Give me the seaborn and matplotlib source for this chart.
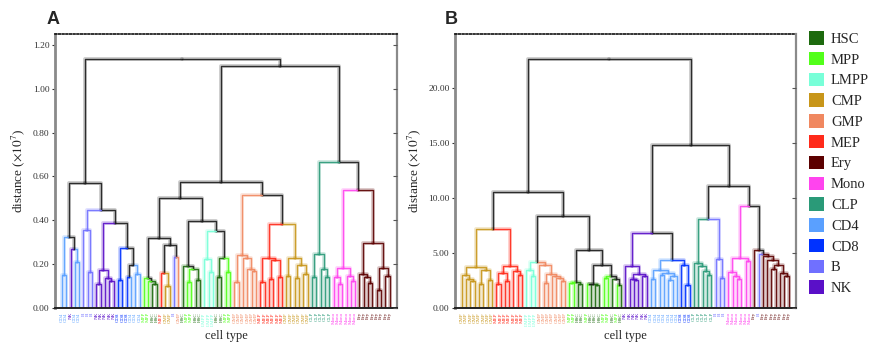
import numpy as np
import pandas as pd
import matplotlib
matplotlib.use("Agg")
import matplotlib.pyplot as plt
from matplotlib.patches import Patch
import seaborn as sns

# ---------------- data ----------------
cell_types = ["HSC", "MPP", "LMPP", "CMP", "GMP", "MEP", "Ery", "Mono",
              "CLP", "CD4", "CD8", "B", "NK"]
type_colors = ["#1d6a0e", "#52ff1a", "#78ffd8", "#c8961a", "#f08860", "#ff2a1a",
               "#5c0000", "#ff44ee", "#2a9a78", "#5aa0ff", "#0032ff", "#7070ff",
               "#5a10c8"]

# merge trees: (left, right, merge distance); leaves are cell types
# ---- panel A (distance x1e7) ----
A_L1 = (("CD4", "CD4", 0.15), ("NK", ("CD4", "CD4", 0.21), 0.27), 0.325)
A_B = ("B", ("B", "B", 0.165), 0.355)
A_NK = (("NK", "NK", 0.108), ("NK", ("NK", "NK", 0.125), 0.138), 0.175)
A_CD = (("CD8", "CD8", 0.128), (("CD8", "CD4", 0.14), ("CD4", "CD4", 0.155), 0.195), 0.275)
A_lymph = (A_L1, (A_B, (A_NK, A_CD, 0.39), 0.445), 0.57)
A_P1a = (("MPP", ("MPP", ("HSC", "HSC", 0.11), 0.125), 0.135),
         (("MEP", ("CMP", "CMP", 0.10), 0.158), ("B", "GMP", 0.233), 0.288), 0.318)
A_P1b = (("HSC", (("MPP", "MPP", 0.12), ("HSC", "HSC", 0.13), 0.177), 0.19),
         (("LMPP", ("LMPP", "LMPP", 0.163), 0.225),
          (("HSC", "HSC", 0.14), ("MPP", "MPP", 0.163), 0.228), 0.349), 0.397)
A_GMP = (("GMP", "GMP", 0.12), ("GMP", ("GMP", ("GMP", "GMP", 0.17), 0.178), 0.23), 0.242)
A_MEP = (("MEP", "MEP", 0.118), (("MEP", "MEP", 0.132), ("MEP", "MEP", 0.143), 0.22), 0.227)
A_CMP = (("CMP", "CMP", 0.148), (("CMP", "CMP", 0.138), ("CMP", "CMP", 0.154), 0.195), 0.227)
A_prog = ((A_P1a, A_P1b, 0.50), (A_GMP, (A_MEP, A_CMP, 0.383), 0.514), 0.574)
A_CLP = (("CLP", "CLP", 0.14), ("CLP", ("CLP", "CLP", 0.143), 0.178), 0.245)
A_Mono = (("Mono", ("Mono", "Mono", 0.11), 0.14), ("Mono", ("Mono", "Mono", 0.123), 0.146), 0.181)
A_Ery = (("Ery", ("Ery", ("Ery", "Ery", 0.116), 0.143), 0.155),
         (("Ery", "Ery", 0.082), ("Ery", "Ery", 0.146), 0.181), 0.295)
A_tree = (A_lymph, (A_prog, (A_CLP, (A_Mono, A_Ery, 0.539), 0.665), 1.106), 1.137)

# ---- panel B (distance x1e7) ----
B_CMP = (("CMP", ("CMP", ("CMP", "CMP", 2.45), 2.65), 3.0),
         (("CMP", "CMP", 2.18), ("CMP", "CMP", 2.57), 3.42), 3.73)
B_MEP = ((("MEP", "MEP", 2.2), ("MEP", "MEP", 2.45), 3.18), ("MEP", ("MEP", "MEP", 2.97), 3.33), 3.79)
B_GMP = ("GMP", (("GMP", "GMP", 2.27), ("GMP", ("GMP", ("GMP", "GMP", 2.42), 2.7), 2.88), 3.09), 3.94)
B_LG = (("LMPP", ("LMPP", "LMPP", 2.88), 3.45), B_GMP, 4.18)
B_green = ((("MPP", "MPP", 2.3), ("HSC", "HSC", 2.21), 2.36),
           ((("MPP", "HSC", 2.15), ("HSC", "HSC", 2.06), 2.21),
            (("MPP", "MPP", 2.75), ("HSC", ("MPP", "HSC", 2.12), 2.66), 2.94), 3.94), 5.3)
B_left = ((B_CMP, B_MEP, 7.18), (B_LG, B_green, 8.39), 10.5)
B_NK = ("NK", (("NK", ("NK", "NK", 2.55), 2.64), ("NK", "NK", 2.88), 3.09), 3.79)
B_CD = ((("CD4", "CD4", 2.64), (("CD4", "CD4", 3.0), (("CD4", "CD4", 2.57), "CD4", 2.9), 3.18), 3.42),
        ("CD8", ("CD8", "CD8", 2.06), 3.88), 4.39)
B_CLPB = (("CLP", ("CLP", ("CLP", ("CLP", "CLP", 2.97), 3.33), 3.79), 4.09),
          ("B", ("B", "B", 2.73), 4.45), 8.05)
B_Mono = (("Mono", ("Mono", ("Mono", "Mono", 2.6), 2.9), 3.24), ("Mono", "Mono", 4.24), 4.55)
B_Ery = ("Ery", ("B", ("Ery", ("Ery", (("Ery", "Ery", 3.54), ("Ery", ("Ery", "Ery", 2.9), 3.18), 3.94),
                               4.39), 4.75), 4.94), 5.3)
B_right = ((B_NK, B_CD, 6.82), (B_CLPB, (B_Mono, B_Ery, 9.24), 11.06), 14.85)
B_tree = (B_left, B_right, 22.64)

A_yticks = [0.0, 0.2, 0.4, 0.6, 0.8, 1.0, 1.2]
B_yticks = [0.0, 5.0, 10.0, 15.0, 20.0]


# ---------------- helpers ----------------
def dendro_frame(tree):
    leaves, rows = [], []

    def rec(node):
        if isinstance(node, str):
            leaves.append(node)
            return float(len(leaves) - 1), 0.0, node
        left, right, h = node
        lx, lh, lt = rec(left)
        rx, rh, rt = rec(right)
        cx = (lx + rx) / 2.0
        for (x, y, t) in ((lx, lh, lt), (rx, rh, rt)):
            k = len(rows) // 3
            rows.append((k, 0, x, y, t))
            rows.append((k, 1, x, h, t))
            rows.append((k, 2, cx, h, t))
        return cx, h, (lt if lt == rt else "mixed")

    rec(tree)
    df = pd.DataFrame(rows, columns=["seg", "step", "x", "y", "kind"])
    return leaves, df


sns.set_theme(style="ticks")
plt.rcParams["font.family"] = ["Liberation Serif", "DejaVu Serif"]
plt.rcParams["mathtext.fontset"] = "stix"

palette = dict(zip(cell_types, type_colors))
palette["mixed"] = "#1a1a1a"

fig = plt.figure(figsize=(8.72, 3.43), dpi=100)
axA = fig.add_axes([55 / 872, 35 / 343, 342 / 872, 274 / 343])
axB = fig.add_axes([455 / 872, 35 / 343, 341 / 872, 274 / 343])


def draw(ax, tree, ymax, yticks, letter, letter_dx):
    leaves, df = dendro_frame(tree)
    n = len(leaves)
    sns.lineplot(data=df, x="x", y="y", units="seg", hue="kind", palette=palette,
                 estimator=None, sort=False, legend=False, lw=2.8, alpha=0.22, ax=ax)
    sns.lineplot(data=df, x="x", y="y", units="seg", hue="kind", palette=palette,
                 estimator=None, sort=False, legend=False, lw=1.0, alpha=0.9, ax=ax)
    ax.set_xlim(-1.6, n - 1 + 1.7)
    ax.set_ylim(0, ymax)
    ax.set_yticks(yticks)
    ax.set_yticklabels([f"{v:.2f}" for v in yticks], fontsize=6.8)
    ax.set_xticks(range(n))
    ax.set_xticklabels(leaves, rotation=90, fontsize=3.6)
    for lab, t in zip(ax.get_xticklabels(), leaves):
        lab.set_color(palette[t])
    ax.tick_params(axis="x", length=0, pad=3)
    ax.tick_params(axis="y", direction="out", length=2.5, width=0.8, pad=1.5,
                   colors="#333333")
    # inward ticks on the right side
    tw = ax.twinx()
    tw.set_ylim(0, ymax)
    tw.set_yticks(yticks)
    tw.tick_params(axis="y", direction="in", length=3, width=0.8, labelright=False,
                   colors="#555555")
    for s in tw.spines.values():
        s.set_visible(False)
    ax.set_xlabel("cell type", fontsize=9, labelpad=3)
    ax.set_ylabel(r"distance ($\times10^{7}$)", fontsize=9.5, labelpad=4)
    ax.spines["left"].set_color("#8a8a8a")
    ax.spines["left"].set_linewidth(2.0)
    ax.spines["right"].set_color("#8a8a8a")
    ax.spines["right"].set_linewidth(1.6)
    ax.spines["bottom"].set_color("#222222")
    ax.spines["bottom"].set_linewidth(1.4)
    ax.spines["top"].set_color("#111111")
    ax.spines["top"].set_linewidth(1.2)
    ax.spines["top"].set_linestyle((0, (1, 1.2)))
    ax.text(letter_dx, 1.053, letter, transform=ax.transAxes, fontsize=13,
            fontweight="bold", family="Liberation Sans", ha="center", va="center")


draw(axA, A_tree, 1.25, A_yticks, "A", -0.006)
draw(axB, B_tree, 24.9, B_yticks, "B", -0.012)

handles = [Patch(facecolor=c, edgecolor="none") for c in type_colors]
fig.legend(handles, cell_types, loc="upper left", bbox_to_anchor=(809 / 872, 1 - 31 / 343),
           frameon=False, fontsize=10.5, handlelength=1.05, handleheight=1.05,
           labelspacing=0.415, handletextpad=0.45, borderaxespad=0, borderpad=0)

fig.savefig("out.png", dpi=100)
